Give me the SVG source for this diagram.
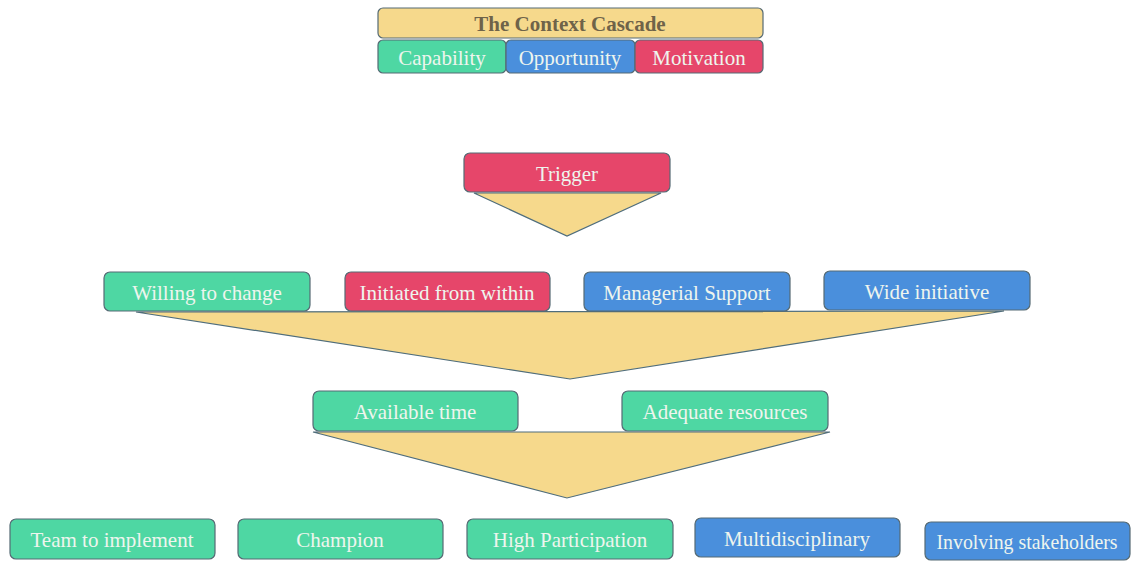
<svg xmlns="http://www.w3.org/2000/svg" width="1131" height="561" viewBox="0 0 1131 561">
  <style>
    .box { stroke: #556a74; stroke-width: 1.2; }
    .cap { fill: #4ed7a3; }
    .opp { fill: #4a8fdc; }
    .mot { fill: #e6466a; }
    .title { fill: #f6d98c; }
    .funnel { fill: #f6d98c; stroke: #4f6d7c; stroke-width: 1.2; stroke-linejoin: miter; }
    .lbl { font-family: "Liberation Serif", "Times New Roman", serif; font-size: 21px; fill: #eef5ee; text-anchor: middle; dominant-baseline: central; }
    .ttl { font-family: "Liberation Serif", "Times New Roman", serif; font-size: 21px; font-weight: bold; fill: #6f6349; text-anchor: middle; dominant-baseline: central; }
  </style>

  <rect width="1131" height="561" fill="#ffffff"/>

  <!-- legend -->
  <g id="legend">
    <rect class="box title" x="378" y="8" width="385" height="30" rx="5"/>
    <text class="ttl" x="570" y="24">The Context Cascade</text>
    <rect class="box cap" x="378" y="40" width="128" height="33" rx="5"/>
    <text class="lbl" x="442" y="57.5">Capability</text>
    <rect class="box opp" x="506" y="40" width="129" height="33" rx="5"/>
    <text class="lbl" x="570" y="57.5">Opportunity</text>
    <rect class="box mot" x="635" y="40" width="128" height="33" rx="5"/>
    <text class="lbl" x="699" y="57.5">Motivation</text>
  </g>

  <!-- funnels between levels -->
  <g id="connectors">
    <polygon class="funnel" points="474,193 661,193 567,236"/>
    <polygon class="funnel" points="136,312 1004,311 570,379"/>
    <polygon class="funnel" points="313,432 830,432 567,498"/>
  </g>

  <g id="trigger">
    <rect class="box mot" x="464" y="153" width="206" height="39" rx="6"/>
    <text class="lbl" x="567" y="174">Trigger</text>
  </g>

  <g id="willing">
    <rect class="box cap" x="104" y="272" width="206" height="39" rx="6"/>
    <text class="lbl" x="207" y="293">Willing to change</text>
  </g>
  <g id="initiated">
    <rect class="box mot" x="345" y="272" width="205" height="39" rx="6"/>
    <text class="lbl" x="447" y="293">Initiated from within</text>
  </g>
  <g id="managerial">
    <rect class="box opp" x="584" y="272" width="206" height="39" rx="6"/>
    <text class="lbl" x="687" y="293">Managerial Support</text>
  </g>
  <g id="wide">
    <rect class="box opp" x="824" y="271" width="206" height="39" rx="6"/>
    <text class="lbl" x="927" y="292">Wide initiative</text>
  </g>

  <g id="time">
    <rect class="box cap" x="313" y="391" width="205" height="40" rx="6"/>
    <text class="lbl" x="415" y="412">Available time</text>
  </g>
  <g id="resources">
    <rect class="box cap" x="622" y="391" width="206" height="40" rx="6"/>
    <text class="lbl" x="725" y="412">Adequate resources</text>
  </g>

  <g id="team">
    <rect class="box cap" x="10" y="519" width="205" height="40" rx="6"/>
    <text class="lbl" x="112" y="540">Team to implement</text>
  </g>
  <g id="champion">
    <rect class="box cap" x="238" y="519" width="205" height="40" rx="6"/>
    <text class="lbl" x="340" y="540">Champion</text>
  </g>
  <g id="participation">
    <rect class="box cap" x="467" y="519" width="206" height="40" rx="6"/>
    <text class="lbl" x="570" y="540">High Participation</text>
  </g>
  <g id="multidisciplinary">
    <rect class="box opp" x="695" y="518" width="205" height="39" rx="6"/>
    <text class="lbl" x="797" y="539">Multidisciplinary</text>
  </g>
  <g id="stakeholders">
    <rect class="box opp" x="925" y="522" width="205" height="38" rx="6"/>
    <text class="lbl" x="1027" y="542" font-size="19" textLength="181" lengthAdjust="spacingAndGlyphs">Involving stakeholders</text>
  </g>
</svg>
